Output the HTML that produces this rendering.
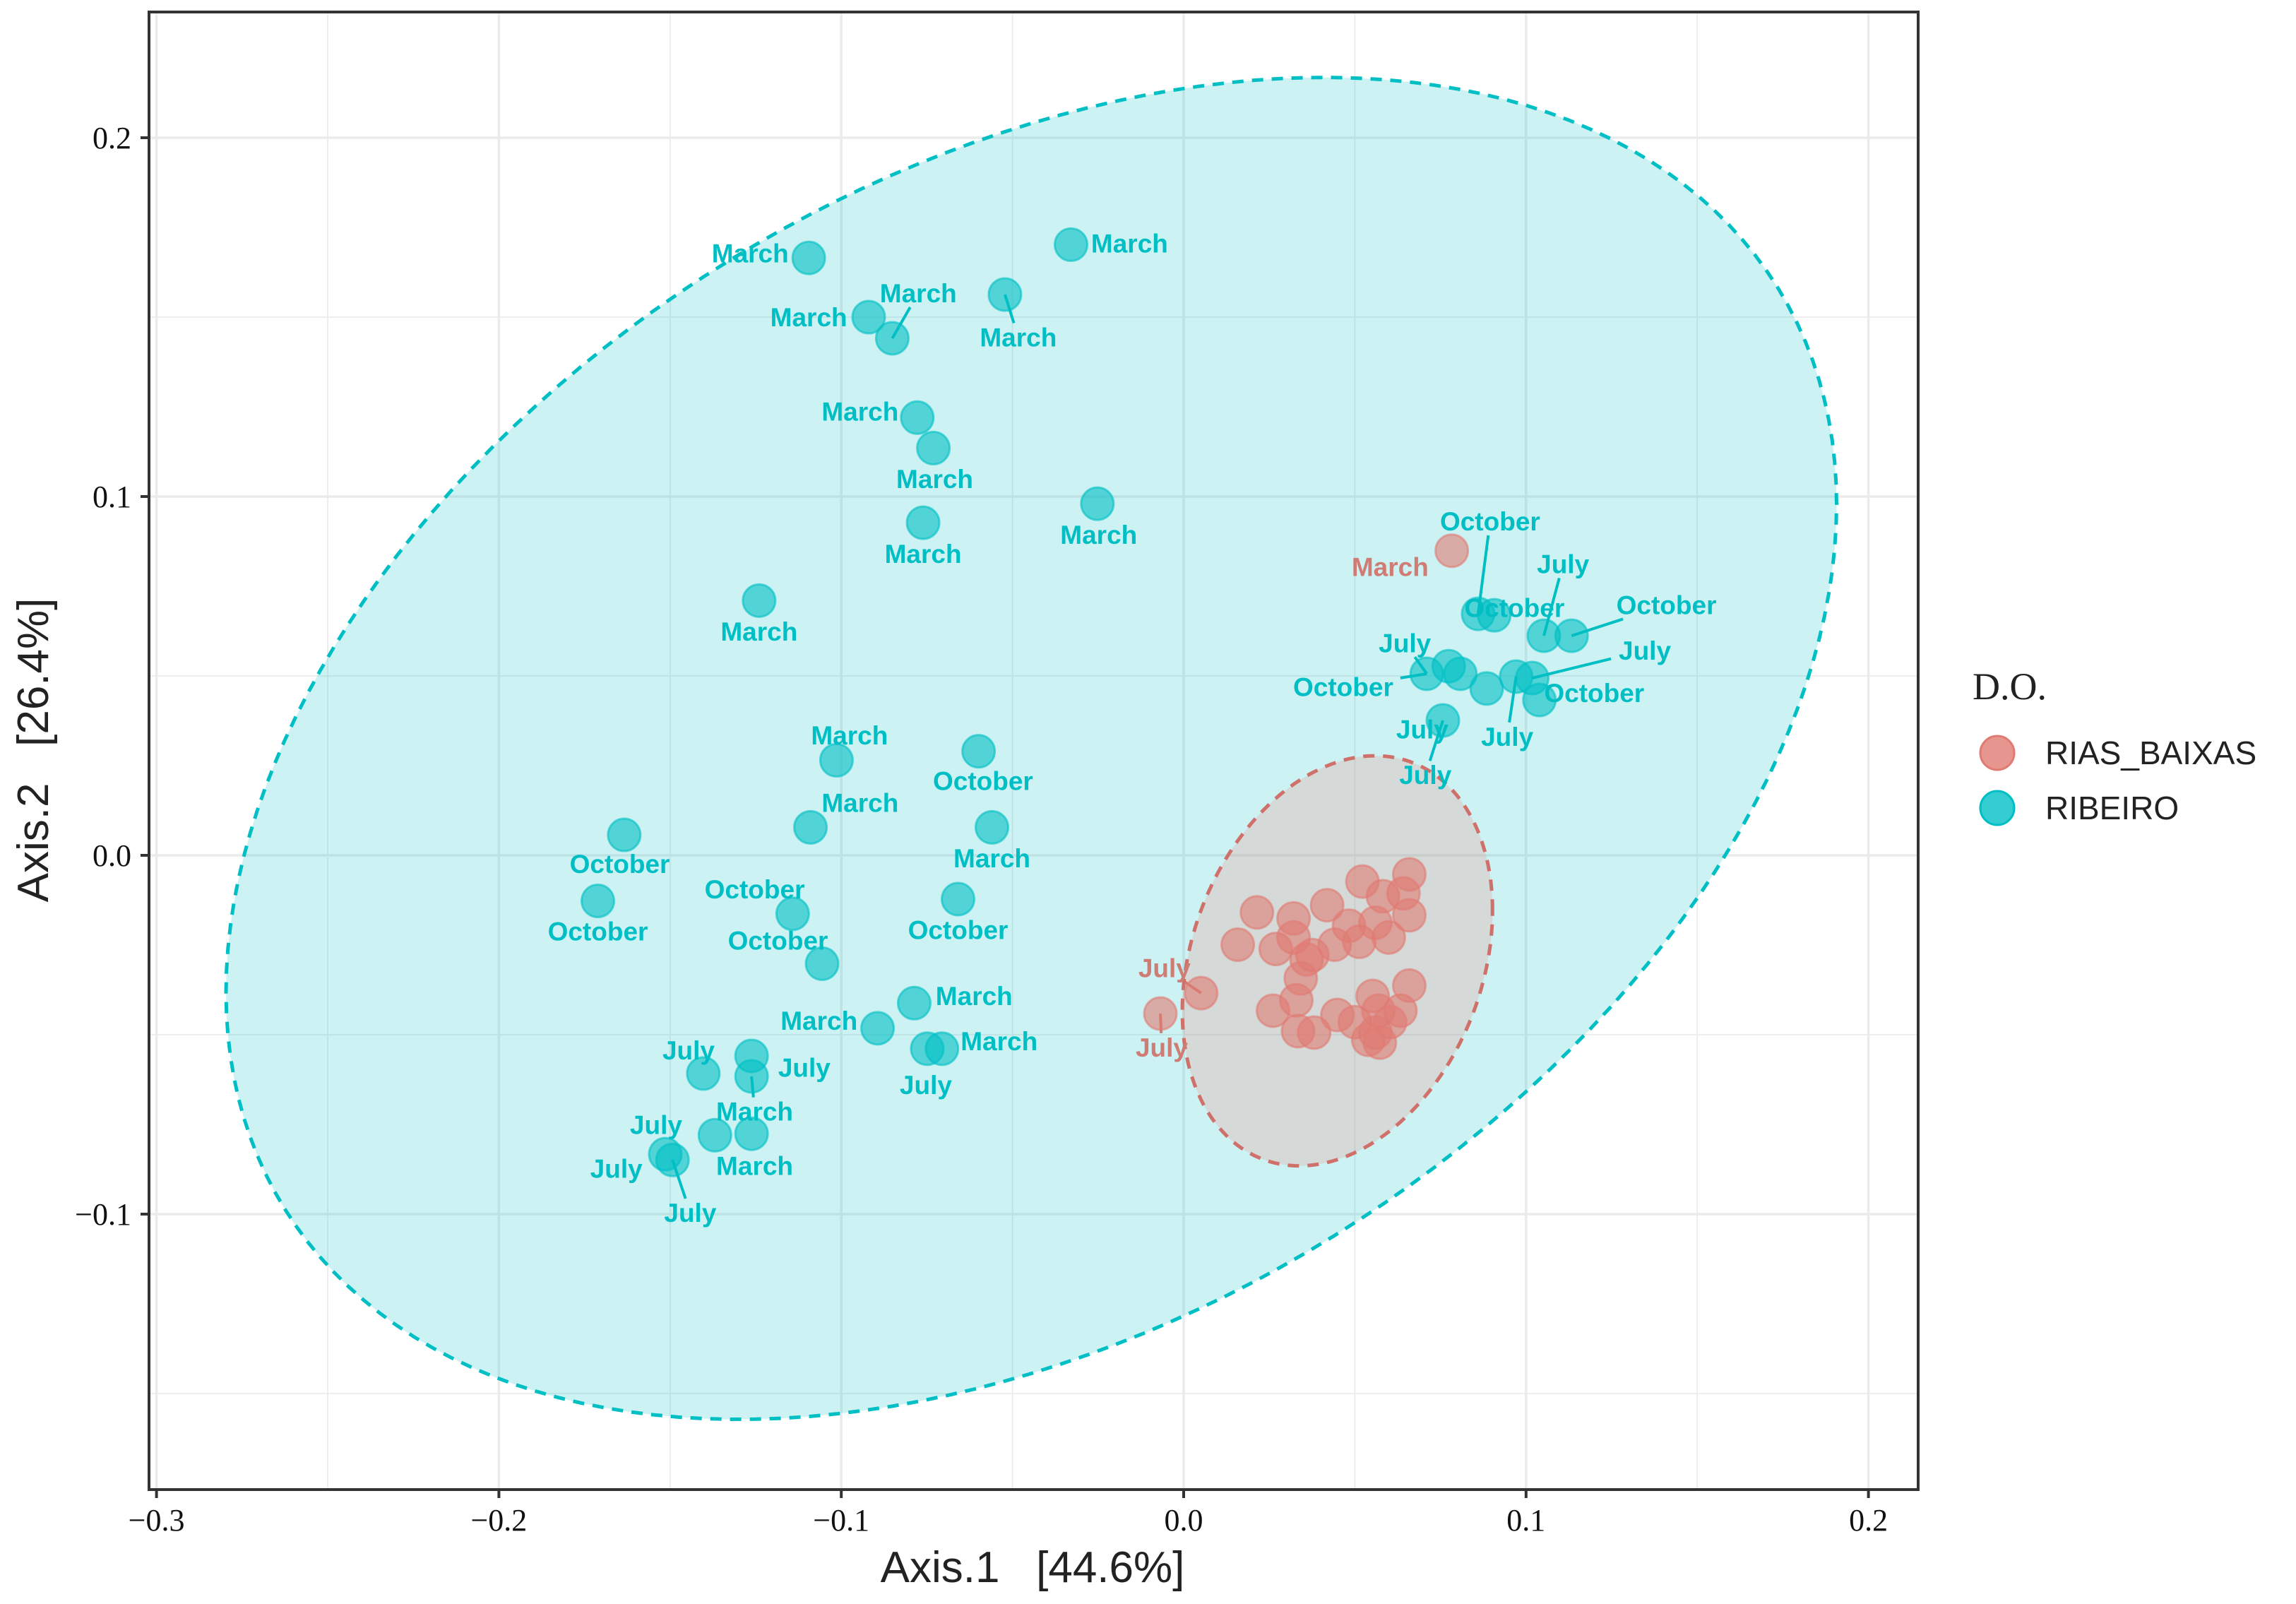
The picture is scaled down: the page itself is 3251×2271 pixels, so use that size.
<!DOCTYPE html>
<html><head><meta charset="utf-8"><style>
html,body{margin:0;padding:0;background:#fff;}
svg{display:block;}
</style></head><body>
<svg id="chart" width="3251" height="2271" viewBox="0 0 3251 2271" xmlns="http://www.w3.org/2000/svg">
<rect width="3251" height="2271" fill="#fff"/>
<g id="grid"></g>
<g id="ellipses"></g>
<g id="segs"></g>
<g id="pts"></g>
<g id="labels"></g>
<rect x="211" y="17" width="2505" height="2092" fill="none" stroke="#333" stroke-width="4"/>
<g id="axes"></g>
<text x="1462" y="2240" text-anchor="middle" font-family="Liberation Sans, sans-serif" font-size="62" fill="#222" style="white-space:pre" xml:space="preserve">Axis.1   [44.6%]</text>
<text transform="translate(68,1062) rotate(-90)" text-anchor="middle" font-family="Liberation Sans, sans-serif" font-size="62" fill="#222" style="white-space:pre" xml:space="preserve">Axis.2   [26.4%]</text>
<g>
<text x="2793" y="990" font-family="Liberation Serif, serif" font-size="54" fill="#222">D.O.</text>
<circle cx="2828" cy="1066" r="24" fill="#E07B73" fill-opacity="0.8" stroke="#E07B73" stroke-width="3"/>
<text x="2896" y="1082" font-family="Liberation Sans, sans-serif" font-size="46" fill="#222">RIAS_BAIXAS</text>
<circle cx="2828" cy="1144" r="24" fill="#00BFC4" fill-opacity="0.8" stroke="#00BFC4" stroke-width="3"/>
<text x="2896" y="1160" font-family="Liberation Sans, sans-serif" font-size="46" fill="#222">RIBEIRO</text>
</g>
</svg>
<script>
// ---- data ----
const xTicks = [-0.3,-0.2,-0.1,0.0,0.1,0.2];
const xTickLabels = ["\u22120.3","\u22120.2","\u22120.1","0.0","0.1","0.2"];
const yTicks = [0.2,0.1,0.0,-0.1];
const yTickLabels = ["0.2","0.1","0.0","\u22120.1"];
const ribX = [-0.1095,-0.0329,-0.092,-0.0851,-0.0522,-0.0778,-0.0731,-0.0761,-0.0252,-0.124,-0.1014,-0.0599,-0.109,-0.056,-0.1634,-0.1711,-0.1142,-0.0659,-0.1056,-0.0894,-0.0787,-0.0749,-0.0706,-0.1262,-0.1262,-0.1403,-0.1369,-0.1262,-0.1514,-0.1493,0.086,0.0907,0.1052,0.1133,0.071,0.0774,0.0808,0.0885,0.0971,0.1018,0.1039,0.0757];
const ribY = [0.1665,0.1702,0.150,0.1441,0.1563,0.122,0.1135,0.0927,0.098,0.071,0.0265,0.029,0.0078,0.0078,0.0057,-0.0127,-0.0163,-0.0122,-0.0302,-0.0482,-0.0412,-0.0539,-0.0539,-0.0559,-0.0616,-0.0608,-0.078,-0.0776,-0.0833,-0.0849,0.0673,0.0669,0.0612,0.0612,0.0506,0.0527,0.0506,0.0465,0.0498,0.0494,0.0433,0.0376];
const riasX = [0.0783,0.0051,-0.0068,0.0214,0.0321,0.0419,0.0522,0.0659,0.0582,0.0642,0.0659,0.056,0.0483,0.0441,0.0376,0.0321,0.0269,0.0158,0.0342,0.0261,0.0329,0.0334,0.0381,0.0449,0.05,0.0552,0.0569,0.0603,0.0633,0.0659,0.056,0.0539,0.0573,0.0513,0.0599,0.0359];
const riasY = [0.0849,-0.0384,-0.0441,-0.0159,-0.0176,-0.0139,-0.0073,-0.0053,-0.0114,-0.0106,-0.0167,-0.0188,-0.0196,-0.0249,-0.0278,-0.0229,-0.0261,-0.0249,-0.0343,-0.0433,-0.0404,-0.049,-0.0494,-0.0445,-0.0465,-0.0392,-0.0433,-0.0465,-0.0433,-0.0363,-0.0494,-0.0514,-0.0522,-0.0241,-0.0229,-0.029];
const ribLabIdx = [0,1,2,3,4,5,6,7,8,9,10,11,12,13,14,15,16,17,18,19,20,21,22,23,24,25,26,28,29,29,30,31,32,33,34,34,38,39,40,41,41];
const ribLabText = ["March","March","March","March","March","March","March","March","March","March","March","October","March","March","October","October","October","October","October","March","March","July","March","July","March","July","March","July","July","July","October","October","July","October","July","October","July","July","October","July","July"];
const ribLabX = [-0.1266,-0.0158,-0.1095,-0.0775,-0.0483,-0.0945,-0.0727,-0.0761,-0.0248,-0.124,-0.0976,-0.0586,-0.0945,-0.056,-0.1647,-0.1711,-0.1253,-0.0659,-0.1185,-0.1065,-0.0612,-0.0753,-0.0539,-0.1108,-0.1253,-0.1446,-0.1253,-0.1541,-0.1657,-0.1441,0.0895,0.0966,0.1108,0.141,0.0646,0.0466,0.0945,0.1347,0.1199,0.0697,0.0706];
const ribLabY = [0.1678,0.1706,0.150,0.1567,0.1444,0.1237,0.1049,0.0841,0.0894,0.0624,0.0335,0.0208,0.0147,-0.0008,-0.0024,-0.0212,-0.0094,-0.0208,-0.0237,-0.0461,-0.0392,-0.064,-0.0518,-0.0592,-0.0714,-0.0543,-0.0865,-0.0751,-0.0873,-0.0996,0.0931,0.0690,0.0812,0.0698,0.0592,0.0469,0.0331,0.0571,0.0453,0.0351,0.0224];
const ribLabSeg = [0,0,0,1,1,0,0,0,0,0,0,0,0,0,0,0,0,0,0,0,0,0,0,0,1,0,0,0,0,1,1,0,1,1,1,1,1,1,0,0,1];
const riasLabIdx = [0,1,2];
const riasLabText = ["March","July","July"];
const riasLabX = [0.0603,-0.0056,-0.0064];
const riasLabY = [0.0804,-0.0314,-0.0535];
const riasLabSeg = [0,1,1];
const ribEll = {cx:-0.0445, cy:0.0298, l11:0.2352, l21:0.0680, l22:0.1742};
const riasEll = {cx:0.0449, cy:-0.0294, l11:0.0453, l21:0.0140, l22:0.0554};

// ---- scales ----
const X = v => 1676 + v*4848;
const Y = v => 1211 - v*5080;
const NS = "http://www.w3.org/2000/svg";
function mk(tag, attrs, parent){const e=document.createElementNS(NS,tag);for(const k in attrs)e.setAttribute(k,attrs[k]);parent.appendChild(e);return e;}
const grid=document.getElementById('grid'), axes=document.getElementById('axes');
for(let v=-0.3; v<=0.2001; v+=0.05){
  const major = Math.abs(Math.round(v*10)-v*10)<1e-6;
  const l=mk('line',{x1:X(v),x2:X(v),y1:17,y2:2109,stroke:'#ebebeb','stroke-width':major?3.5:1.8},grid);
  
  
}
for(let v=-0.15; v<=0.2301; v+=0.05){
  const major = Math.abs(Math.round(v*10)-v*10)<1e-6;
  const l=mk('line',{x1:211,x2:2716,y1:Y(v),y2:Y(v),stroke:'#ebebeb','stroke-width':major?3.5:1.8},grid);
  
  
}
xTicks.forEach((v,i)=>{
  const t=mk('line',{x1:X(v),x2:X(v),y1:2109,y2:2121,stroke:'#333','stroke-width':4},axes);
  
  
  const tx=mk('text',{x:X(v),y:2167,'text-anchor':'middle','font-family':'Liberation Serif, serif','font-size':44,fill:'#111'},axes);
  tx.textContent=xTickLabels[i];
  
  
});
yTicks.forEach((v,i)=>{
  const t=mk('line',{x1:199,x2:211,y1:Y(v),y2:Y(v),stroke:'#333','stroke-width':4},axes);
  
  
  const tx=mk('text',{x:186,y:Y(v)+15,'text-anchor':'end','font-family':'Liberation Serif, serif','font-size':44,fill:'#111'},axes);
  tx.textContent=yTickLabels[i];
  
  
});
function ellPath(e){
  let d='';
  for(let k=0;k<=180;k++){
    const t=k/180*2*Math.PI, c=Math.cos(t), s=Math.sin(t);
    const x=e.cx+e.l11*c, y=e.cy+e.l21*c+e.l22*s;
    d+=(k?'L':'M')+X(x).toFixed(1)+','+Y(y).toFixed(1);
  }
  return d+'Z';
}
const eg=document.getElementById('ellipses');
const e1=mk('path',{d:ellPath(ribEll),fill:'#00BFC4','fill-opacity':0.2,stroke:'#00BFC4','stroke-width':5,'stroke-dasharray':'16,12'},eg);


const e2=mk('path',{d:ellPath(riasEll),fill:'#F8766D','fill-opacity':0.2,stroke:'#D0706A','stroke-width':5,'stroke-dasharray':'16,12'},eg);


const pg=document.getElementById('pts');
function drawPts(xs,ys,col,name){
  xs.forEach((v,i)=>{
    const c=mk('circle',{cx:X(v),cy:Y(ys[i]),r:23,fill:col,'fill-opacity':0.6,stroke:col,'stroke-opacity':0.6,'stroke-width':3},pg);
    
    
  });
}
drawPts(riasX,riasY,'#E07B73','rias-baixas-point');
drawPts(ribX,ribY,'#00BFC4','ribeiro-point');
const sg=document.getElementById('segs'), lg=document.getElementById('labels');
function drawLabels(idx,txt,lx,ly,seg,px,py,col,name){
  idx.forEach((pi,i)=>{
    const x=X(lx[i]), y=Y(ly[i]);
    if(seg[i]){
      const x0=X(px[pi]), y0=Y(py[pi]);
      const hw=txt[i].length*11+4, hh=20;
      const dx=x0-x, dy=y0-y;
      let f=Math.min(Math.abs(dx)>1e-6?hw/Math.abs(dx):1e9, Math.abs(dy)>1e-6?hh/Math.abs(dy):1e9);
      if(f>1) f=1;
      const s=mk('line',{x1:x0,y1:y0,x2:x+dx*f,y2:y+dy*f,stroke:col,'stroke-width':4},sg);
      
      
    }
    const t=mk('text',{x:x,y:y+13,'text-anchor':'middle','font-family':'Liberation Sans, sans-serif','font-size':37,'font-weight':'bold',fill:col},lg);
    t.textContent=txt[i];
    
    
  });
}
drawLabels(ribLabIdx,ribLabText,ribLabX,ribLabY,ribLabSeg,ribX,ribY,'#00BFC4','ribeiro-point-label');
drawLabels(riasLabIdx,riasLabText,riasLabX,riasLabY,riasLabSeg,riasX,riasY,'#CF7C74','rias-baixas-point-label');
</script>
</body></html>
